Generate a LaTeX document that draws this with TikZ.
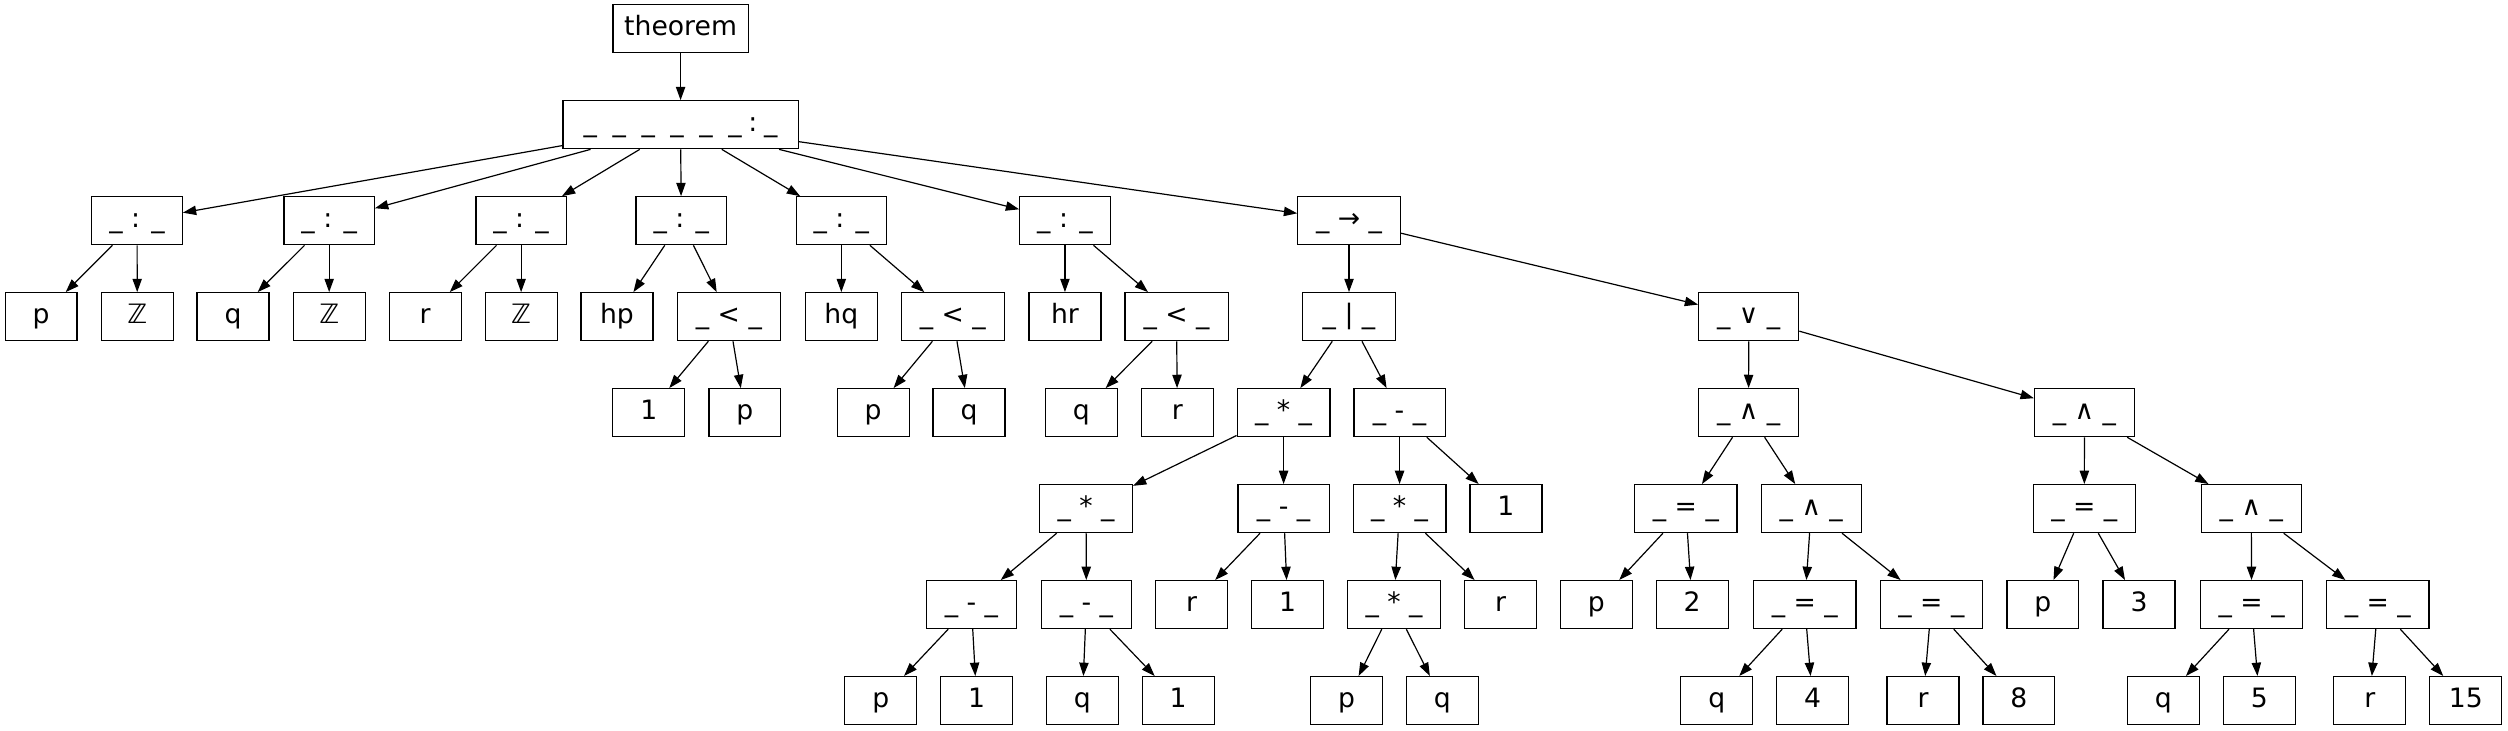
\documentclass[tikz,border=0pt]{standalone}
\usepackage{fontspec}
\setmainfont{DejaVu Sans}
\usetikzlibrary{arrows.meta}
\begin{document}
\begin{tikzpicture}[x=1.2pt,y=-1.2pt,
  box/.style={draw, line width=0.9pt, rectangle, minimum height=36pt, minimum width=54pt,
    inner xsep=0pt, inner ysep=0pt, text height=14pt, text depth=3.5pt,
    font=\fontsize{20}{24}\selectfont},
  bw/.style={minimum width=#1*1.2pt},
  edge/.style={line width=0.9pt, -{Triangle[length=10pt,width=7pt]}}]
\useasboundingbox (0,0) rectangle (1568,457);
% row 0,1
\node[box,bw=84.5] (th) at (425.5,18) {theorem};
\node[box,bw=147] (top) at (425.5,78) {\_\kern11.7pt\_\kern11.7pt\_\kern11.7pt\_\kern11.7pt\_\kern11.7pt\_\kern5.1pt:\kern5.1pt\_};
% row 2
\node[box,bw=56.5] (c1) at (85.7,138) {\_ : \_};
\node[box,bw=56.5] (c2) at (205.8,138) {\_ : \_};
\node[box,bw=56.5] (c3) at (325.8,138) {\_ : \_};
\node[box,bw=56.5] (c4) at (425.9,138) {\_ : \_};
\node[box,bw=56.5] (c5) at (526,138) {\_ : \_};
\node[box,bw=56.5] (c6) at (665.8,138) {\_ : \_};
\node[box,bw=64] (imp) at (843.4,138) {\_ → \_};
% row 3
\node[box] (p1) at (25.7,198) {p};
\node[box] (z1) at (85.8,198) {ℤ};
\node[box] (q1) at (145.7,198) {q};
\node[box] (z2) at (205.8,198) {ℤ};
\node[box] (r1) at (265.8,198) {r};
\node[box] (z3) at (325.8,198) {ℤ};
\node[box] (hp) at (385.7,198) {hp};
\node[box,bw=64.5] (lt1) at (455.7,198) {\_ < \_};
\node[box] (hq) at (526,198) {hq};
\node[box,bw=64.5] (lt2) at (595.7,198) {\_ < \_};
\node[box] (hr) at (665.8,198) {hr};
\node[box,bw=64.5] (lt3) at (735.6,198) {\_ < \_};
\node[box,bw=58] (bar) at (843.4,198) {\_ | \_};
\node[box,bw=62.5] (or) at (1093.3,198) {\_ ∨ \_};
% row 4
\node[box] (n1) at (405.6,258) {1};
\node[box] (pa) at (465.7,258) {p};
\node[box] (pb) at (545.9,258) {p};
\node[box] (qa) at (605.8,258) {q};
\node[box] (qb) at (676,258) {q};
\node[box] (ra) at (736,258) {r};
\node[box,bw=58] (mul1) at (802.5,258) {\_ * \_};
\node[box,bw=57] (sub1) at (875,258) {\_ - \_};
\node[box,bw=62.5] (and1) at (1093.2,258) {\_ ∧ \_};
\node[box,bw=62.5] (and2) at (1303.2,258) {\_ ∧ \_};
% row 5
\node[box,bw=58] (mul2) at (679,318) {\_ * \_};
\node[box,bw=57] (sub2) at (802.5,318) {\_ - \_};
\node[box,bw=58] (mul3) at (875,318) {\_ * \_};
\node[box] (onea) at (941.5,318) {1};
\node[box,bw=64] (eq1) at (1054,318) {\_ = \_};
\node[box,bw=62.5] (and3) at (1132.4,318) {\_ ∧ \_};
\node[box,bw=64] (eq4) at (1303.1,318) {\_ = \_};
\node[box,bw=62.5] (and4) at (1407.5,318) {\_ ∧ \_};
% row 6
\node[box,bw=56.5] (subA) at (607.3,378) {\_ - \_};
\node[box,bw=56.5] (subB) at (679.2,378) {\_ - \_};
\node[box] (rb) at (745,378) {r};
\node[box] (oneb) at (805,378) {1};
\node[box,bw=58] (mul4) at (871.5,378) {\_ * \_};
\node[box] (rc) at (938.1,378) {r};
\node[box] (pc) at (998,378) {p};
\node[box] (two) at (1057.9,378) {2};
\node[box,bw=64] (eq2) at (1128.3,378) {\_ = \_};
\node[box,bw=64] (eq3) at (1207.5,378) {\_ = \_};
\node[box] (pd) at (1277.2,378) {p};
\node[box] (three) at (1337.3,378) {3};
\node[box,bw=64] (eq5) at (1407.7,378) {\_ = \_};
\node[box,bw=64] (eq6) at (1486.6,378) {\_ = \_};
% row 7
\node[box] (pe) at (550.7,438) {p};
\node[box] (onec) at (610.6,438) {1};
\node[box] (qc) at (676.7,438) {q};
\node[box] (oned) at (736.6,438) {1};
\node[box] (pf) at (841.8,438) {p};
\node[box] (qd) at (901.7,438) {q};
\node[box] (qe) at (1073.3,438) {q};
\node[box] (four) at (1133.2,438) {4};
\node[box] (rd) at (1202.3,438) {r};
\node[box] (eight) at (1262.2,438) {8};
\node[box] (qf) at (1352.5,438) {q};
\node[box] (five) at (1412.6,438) {5};
\node[box] (re) at (1481.6,438) {r};
\node[box] (fifteen) at (1541.6,438) {15};
% edges
\foreach \a/\b in {th/top, top/c1, top/c2, top/c3, top/c4, top/c5, top/c6, top/imp,
  c1/p1, c1/z1, c2/q1, c2/z2, c3/r1, c3/z3, c4/hp, c4/lt1, c5/hq, c5/lt2, c6/hr, c6/lt3,
  lt1/n1, lt1/pa, lt2/pb, lt2/qa, lt3/qb, lt3/ra,
  imp/bar, imp/or, bar/mul1, bar/sub1, mul1/mul2, mul1/sub2, sub1/mul3, sub1/onea,
  mul2/subA, mul2/subB, sub2/rb, sub2/oneb, mul3/mul4, mul3/rc,
  subA/pe, subA/onec, subB/qc, subB/oned, mul4/pf, mul4/qd,
  or/and1, or/and2, and1/eq1, and1/and3, eq1/pc, eq1/two, and3/eq2, and3/eq3,
  eq2/qe, eq2/four, eq3/rd, eq3/eight,
  and2/eq4, and2/and4, eq4/pd, eq4/three, and4/eq5, and4/eq6,
  eq5/qf, eq5/five, eq6/re, eq6/fifteen}
  \draw[edge] (\a) -- (\b);
\end{tikzpicture}
\end{document}
